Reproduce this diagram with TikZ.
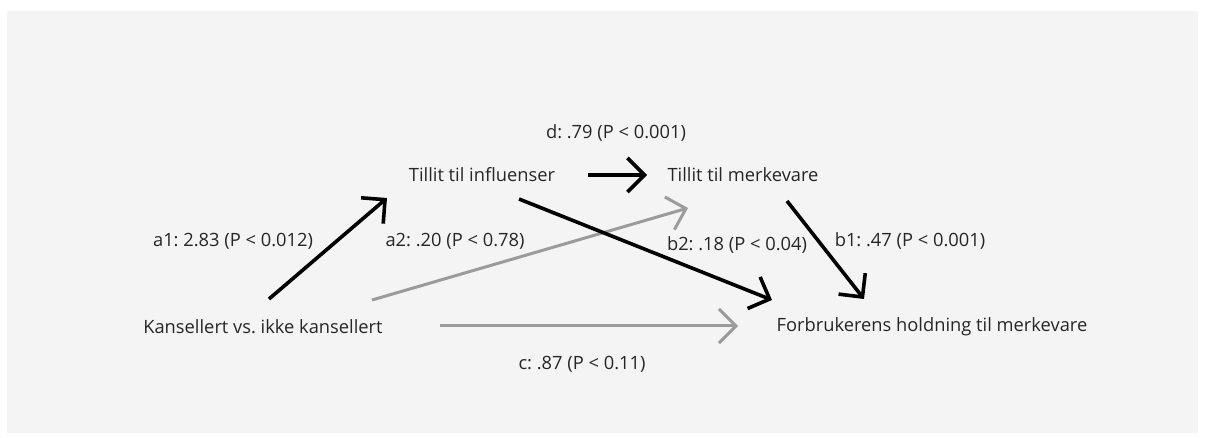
\documentclass[tikz,border=0pt]{standalone}
\usepackage{fontspec}
\setmainfont{Open Sans}
\usetikzlibrary{arrows.meta}
\definecolor{bg}{HTML}{F4F4F4}
\definecolor{txt}{HTML}{262626}
\definecolor{garrow}{HTML}{9B9B9B}
\frenchspacing
\begin{document}
\begin{tikzpicture}[x=1pt,y=-1pt,
  lbl/.style={text=txt, inner sep=0pt, font=\fontsize{18.3}{21}\selectfont},
  blk/.style={draw=black, line width=3.6pt, -{Straight Barb[length=17pt,width=34pt]}},
  gry/.style={draw=garrow, line width=3pt, -{Straight Barb[length=17pt,width=34pt]}}]
\useasboundingbox (0,0) rectangle (1205,438);
\fill[bg] (7,11) rectangle (1198,433);
% main nodes
\node[lbl] (infl) at (482,175) {Tillit til influenser};
\node[lbl] (merk) at (743,175) {Tillit til merkevare};
\node[lbl] (kans) at (263,327) {Kansellert vs. ikke kansellert};
\node[lbl] (forb) at (932,327) {Forbrukerens holdning til merkevare};
% labels
\node[lbl] (ld) at (616,133) {d: .79 (P < 0.001)};
\node[lbl] (la1) at (233,241) {a1: 2.83 (P < 0.012)};
\node[lbl] (la2) at (455,241) {a2: .20 (P < 0.78)};
\node[lbl] (lb2) at (737,245) {b2: .18 (P < 0.04)};
\node[lbl] (lb1) at (910,241) {b1: .47 (P < 0.001)};
\node[lbl] (lc) at (582,364) {c: .87 (P < 0.11)};
% connector end points
\coordinate (ds) at (588,175);  \coordinate (de) at (647,175);
\coordinate (a1s) at (269,299); \coordinate (a1e) at (387,198);
\coordinate (a2s) at (372,300); \coordinate (a2e) at (688,208);
\coordinate (cs) at (440,326);  \coordinate (ce) at (738,326);
\coordinate (b2s) at (519,199); \coordinate (b2e) at (772,300);
\coordinate (b1s) at (787,201); \coordinate (b1e) at (864,299);
% connectors
\draw[gry] (a2s) -- (a2e);
\draw[gry] (cs) -- (ce);
\draw[blk] (ds) -- (de);
\draw[blk] (a1s) -- (a1e);
\draw[blk] (b2s) -- (b2e);
\draw[blk] (b1s) -- (b1e);
\end{tikzpicture}
\end{document}
